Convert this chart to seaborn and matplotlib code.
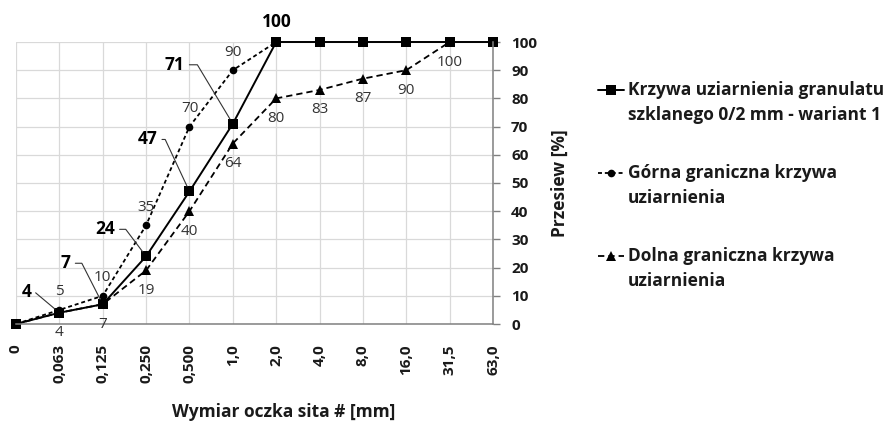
import numpy as np
import matplotlib
matplotlib.use("Agg")
import matplotlib.pyplot as plt
import seaborn as sns
from matplotlib.legend_handler import HandlerLine2D

# ---------------- data ----------------
sieve_labels = ["0", "0,063", "0,125", "0,250", "0,500", "1,0", "2,0",
                "4,0", "8,0", "16,0", "31,5", "63,0"]
main_vals = [0, 4, 7, 24, 47, 71, 100, 100, 100, 100, 100, 100]
upper_vals = [0, 5, 10, 35, 70, 90, 100]
lower_vals = [0, 4, 7, 19, 40, 64, 80, 83, 87, 90, 100]
y_ticks = list(range(0, 101, 10))
series_names = ["Krzywa uziarnienia granulatu\nszklanego 0/2 mm - wariant 1",
                "Górna graniczna krzywa\nuziarnienia",
                "Dolna graniczna krzywa\nuziarnienia"]
x_title = "Wymiar oczka sita # [mm]"
y_title = "Przesiew [%]"

# indices of points that get labels
main_label_idx = [1, 2, 3, 4, 5, 6]
upper_label_idx = [1, 2, 3, 4, 5]
lower_label_idx = [1, 2, 3, 4, 5, 6, 7, 8, 9, 10]


class ShiftedHandler(HandlerLine2D):
    """Legend handle aligned with the first line of a two-line label."""
    def __init__(self, shift, **kw):
        super().__init__(**kw)
        self.shift = shift

    def create_artists(self, legend, orig_handle, xdescent, ydescent,
                       width, height, fontsize, trans):
        arts = super().create_artists(legend, orig_handle, xdescent, ydescent,
                                      width, height, fontsize, trans)
        for a in arts:
            a.set_ydata(np.asarray(a.get_ydata(), float) + self.shift)
        return arts


# ---------------- style ----------------
sns.set_theme(style="whitegrid")
plt.rcParams["font.family"] = ["Open Sans", "DejaVu Sans"]

W, H = 893, 423
fig = plt.figure(figsize=(W / 100, H / 100), dpi=100)
x0, x1, ytop, ybot = 16, 493, 42, 324
ax = fig.add_axes([x0 / W, 1 - ybot / H, (x1 - x0) / W, (ybot - ytop) / H])
ax.set_facecolor("white")

pos_main = np.arange(len(main_vals))
pos_up = np.arange(len(upper_vals))
pos_low = np.arange(len(lower_vals))

sns.lineplot(x=pos_low, y=lower_vals, ax=ax, color="black", lw=1.3,
             linestyle=(0, (3.5, 2.2)), marker="^", markersize=6.5,
             markeredgewidth=0, clip_on=False, label=series_names[2], legend=False)
sns.lineplot(x=pos_up, y=upper_vals, ax=ax, color="black", lw=1.3,
             linestyle=(0, (2.2, 1.6)), marker="o", markersize=5.5,
             markeredgewidth=0, clip_on=False, label=series_names[1], legend=False)
sns.lineplot(x=pos_main, y=main_vals, ax=ax, color="black", lw=1.4,
             linestyle="-", marker="s", markersize=7,
             markeredgewidth=0, clip_on=False, label=series_names[0], legend=False)

ax.set_xlim(0, len(sieve_labels) - 1)
ax.set_ylim(0, 100)
ax.set_xticks(np.arange(len(sieve_labels)))
ax.set_xticklabels(sieve_labels, rotation=90, fontsize=11, fontweight="bold")
ax.set_yticks(y_ticks)
ax.set_yticklabels([str(v) for v in y_ticks], fontsize=11, fontweight="bold")
ax.yaxis.tick_right()
ax.yaxis.set_label_position("right")
ax.grid(True, color="#d9d9d9", lw=0.9)
ax.tick_params(axis="both", which="both", direction="out", length=5, width=1,
               color="#808080", labelcolor="#1a1a1a")
ax.tick_params(axis="x", pad=9.5)
ax.tick_params(axis="y", pad=8, right=True, left=False)
for s in ["left", "top"]:
    ax.spines[s].set_visible(False)
for s in ["right", "bottom"]:
    ax.spines[s].set_visible(True)
    ax.spines[s].set_color("#808080")
    ax.spines[s].set_linewidth(1.1)

ax.set_xlabel(x_title, fontsize=12.5, fontweight="bold", color="#1a1a1a")
ax.xaxis.label.set_va("center")
ax.xaxis.set_label_coords((284 - x0) / (x1 - x0), (ybot - 412) / (ybot - ytop))
ax.set_ylabel(y_title, fontsize=12.5, fontweight="bold", color="#1a1a1a")
ax.yaxis.label.set_va("center")
ax.yaxis.set_label_coords((560 - x0) / (x1 - x0), 0.5)

# main series labels with leader lines (offsets in pixels, leader angle)
main_offsets = [(-33, 21, 140), (-37, 41, 117), (-41, 27, 127),
                (-42, 52, 115), (-58, 59, 121), (1, 20, None)]
for i, (dx, dy, ang) in zip(main_label_idx, main_offsets):
    kw = {}
    if ang is not None:
        kw["arrowprops"] = dict(arrowstyle="-", color="#333333", lw=0.8,
                                shrinkA=1, shrinkB=4,
                                connectionstyle=f"angle,angleA=0,angleB={ang},rad=0")
    ax.annotate(str(main_vals[i]), xy=(i, main_vals[i]), xytext=(dx, dy),
                textcoords="offset pixels", ha="center", va="center",
                fontsize=12.5, fontweight="bold", color="black",
                annotation_clip=False, **kw)

for i in upper_label_idx:
    ax.annotate(str(upper_vals[i]), xy=(i, upper_vals[i]), xytext=(0, 18),
                textcoords="offset pixels", ha="center", va="center",
                fontsize=11, color="#333333", annotation_clip=False)
for i in lower_label_idx:
    ax.annotate(str(lower_vals[i]), xy=(i, lower_vals[i]), xytext=(0, -20),
                textcoords="offset pixels", ha="center", va="center",
                fontsize=11, color="#333333", annotation_clip=False)

# legend
lines = ax.get_lines()
by_label = {l.get_label(): l for l in lines}
handles = [by_label[n] for n in series_names]
leg = fig.legend(handles, series_names, loc="upper left",
                 bbox_to_anchor=(598 / W, 1 - 81 / H), frameon=False,
                 prop={"family": "Open Sans", "weight": "bold", "size": 12.5},
                 handlelength=1.5, handletextpad=0.2, labelspacing=2.3,
                 borderpad=0, borderaxespad=0,
                 handler_map={h: ShiftedHandler(9.5) for h in handles})
for t in leg.get_texts():
    t.set_linespacing(1.5)
    t.set_color("#1a1a1a")

fig.savefig("out.png", dpi=100)
